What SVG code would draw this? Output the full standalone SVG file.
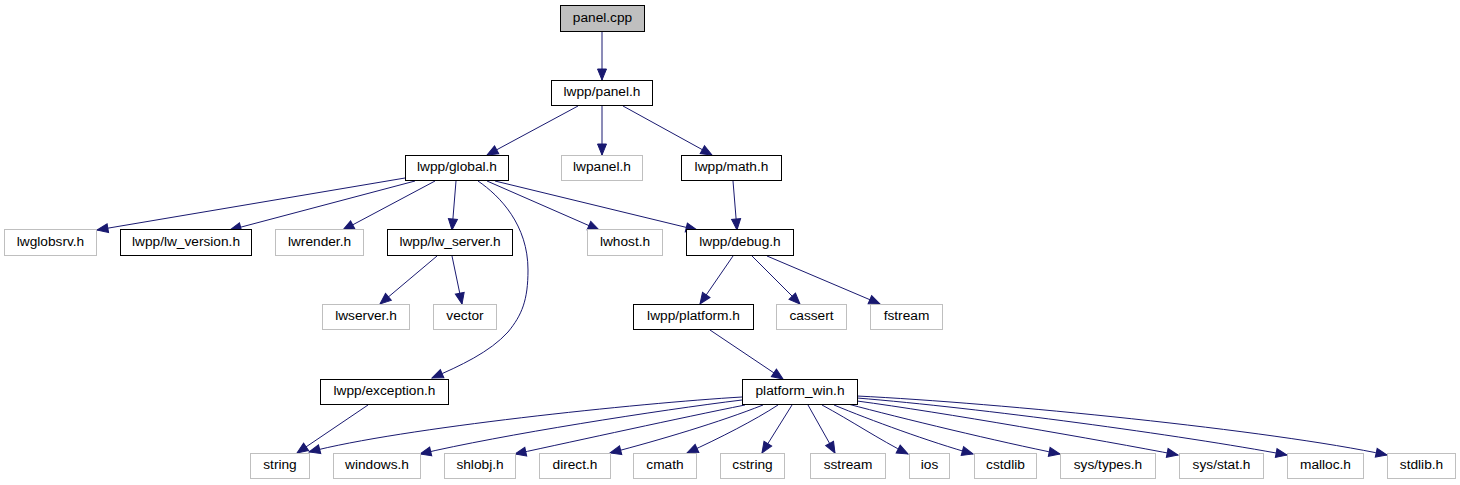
<svg xmlns="http://www.w3.org/2000/svg" width="1460" height="485" viewBox="0 0 1460 485">
<style>
.n rect{fill:#ffffff;stroke:#000000;stroke-width:1}
.g rect{fill:#ffffff;stroke:#bfbfbf;stroke-width:1}
.root rect{fill:#bfbfbf;stroke:#000000;stroke-width:1}
text{font-family:"Liberation Sans",Arial,sans-serif;font-size:13.7px;fill:#000000;text-anchor:middle}
#edges path{fill:none;stroke:#191970;stroke-width:1;marker-end:url(#ah)}
</style>
<defs>
<marker id="ah" markerUnits="userSpaceOnUse" markerWidth="12" markerHeight="10" refX="11" refY="4.5" orient="auto" overflow="visible">
<path d="M0,0 L11,4.5 L0,9 Z" fill="#191970" stroke="#191970" stroke-width="1"/>
</marker>
</defs>
<rect width="1460" height="485" fill="#ffffff"/>
<g id="edges">
<path d="M602,32 L602,80"/>
<path d="M578,106 L487,155"/>
<path d="M602,106 L602,155"/>
<path d="M623,106 L712,155"/>
<path d="M405,178 L97,230"/>
<path d="M415,181 L230,230"/>
<path d="M435,181 L343,230"/>
<path d="M456,181 L452,230"/>
<path d="M487,181 L599,230"/>
<path d="M495,181 L697,230"/>
<path d="M478,181 C500,196 528,225 528,270 C528,300 522,315 508,332 C490,352 460,366 432,378"/>
<path d="M733,181 L737,230"/>
<path d="M437,256 L380,304"/>
<path d="M452,256 L462,304"/>
<path d="M733,256 L700,304"/>
<path d="M752,256 L800,304"/>
<path d="M767,256 L880,304"/>
<path d="M710,330 L783,379"/>
<path d="M368,405 L297,453"/>
<path d="M742,397 C640,403 400,428 309,452"/>
<path d="M742,400 C660,410 500,435 420,454"/>
<path d="M745,405 C680,418 580,440 515,454"/>
<path d="M763,405 C720,422 660,440 610,453"/>
<path d="M778,405 C755,420 720,438 687,453"/>
<path d="M792,405 L762,453"/>
<path d="M808,405 L835,453"/>
<path d="M822,405 C850,420 880,440 908,454"/>
<path d="M834,405 C870,420 930,442 973,454"/>
<path d="M848,404 C900,418 1000,442 1060,454"/>
<path d="M857,401 C940,412 1100,440 1178,455"/>
<path d="M857,398 C980,408 1180,435 1287,455"/>
<path d="M857,396 C1000,403 1270,430 1387,455"/>
</g>
<g id="panel_cpp" class="root"><rect x="560.5" y="5.5" width="84" height="26"/><text x="602.5" y="22">panel.cpp</text></g>
<g id="lwpp_panel_h" class="n"><rect x="551.5" y="80.5" width="101" height="25"/><text x="602" y="96">lwpp/panel.h</text></g>
<g id="lwpanel_h" class="g"><rect x="561.5" y="155.5" width="81" height="25"/><text x="602" y="171">lwpanel.h</text></g>
<g id="lwpp_math_h" class="n"><rect x="681.5" y="155.5" width="100" height="25"/><text x="731.5" y="171">lwpp/math.h</text></g>
<g id="lwpp_global_h" class="n"><rect x="405.5" y="155.5" width="103" height="25"/><text x="457" y="171">lwpp/global.h</text></g>
<g id="lwglobsrv_h" class="g"><rect x="4.5" y="229.5" width="92" height="26"/><text x="50.5" y="246">lwglobsrv.h</text></g>
<g id="lwpp_lw_version_h" class="n"><rect x="120.5" y="229.5" width="131" height="26"/><text x="186" y="246">lwpp/lw_version.h</text></g>
<g id="lwrender_h" class="g"><rect x="275.5" y="229.5" width="88" height="26"/><text x="319.5" y="246">lwrender.h</text></g>
<g id="lwpp_lw_server_h" class="n"><rect x="387.5" y="229.5" width="125" height="26"/><text x="450" y="246">lwpp/lw_server.h</text></g>
<g id="lwhost_h" class="g"><rect x="587.5" y="229.5" width="75" height="26"/><text x="625" y="246">lwhost.h</text></g>
<g id="lwpp_debug_h" class="n"><rect x="686.5" y="229.5" width="107" height="26"/><text x="740" y="246">lwpp/debug.h</text></g>
<g id="lwserver_h" class="g"><rect x="322.5" y="304.5" width="87" height="25"/><text x="366" y="320">lwserver.h</text></g>
<g id="vector" class="g"><rect x="433.5" y="304.5" width="63" height="25"/><text x="465" y="320">vector</text></g>
<g id="lwpp_platform_h" class="n"><rect x="633.5" y="304.5" width="120" height="25"/><text x="693.5" y="320">lwpp/platform.h</text></g>
<g id="cassert" class="g"><rect x="776.5" y="304.5" width="70" height="25"/><text x="811.5" y="320">cassert</text></g>
<g id="fstream" class="g"><rect x="870.5" y="304.5" width="72" height="25"/><text x="906.5" y="320">fstream</text></g>
<g id="lwpp_exception_h" class="n"><rect x="320.5" y="379.5" width="128" height="25"/><text x="384.5" y="395">lwpp/exception.h</text></g>
<g id="platform_win_h" class="n"><rect x="742.5" y="379.5" width="115" height="25"/><text x="800" y="395">platform_win.h</text></g>
<g id="string" class="g"><rect x="250.5" y="453.5" width="59" height="25"/><text x="280" y="469">string</text></g>
<g id="windows_h" class="g"><rect x="333.5" y="453.5" width="87" height="25"/><text x="377" y="469">windows.h</text></g>
<g id="shlobj_h" class="g"><rect x="444.5" y="453.5" width="71" height="25"/><text x="480" y="469">shlobj.h</text></g>
<g id="direct_h" class="g"><rect x="539.5" y="453.5" width="71" height="25"/><text x="575" y="469">direct.h</text></g>
<g id="cmath" class="g"><rect x="633.5" y="453.5" width="63" height="25"/><text x="665" y="469">cmath</text></g>
<g id="cstring" class="g"><rect x="720.5" y="453.5" width="64" height="25"/><text x="752.5" y="469">cstring</text></g>
<g id="sstream" class="g"><rect x="810.5" y="453.5" width="75" height="25"/><text x="848" y="469">sstream</text></g>
<g id="ios" class="g"><rect x="909.5" y="453.5" width="40" height="25"/><text x="929.5" y="469">ios</text></g>
<g id="cstdlib" class="g"><rect x="974.5" y="453.5" width="62" height="25"/><text x="1005.5" y="469">cstdlib</text></g>
<g id="sys_types_h" class="g"><rect x="1060.5" y="453.5" width="95" height="25"/><text x="1108" y="469">sys/types.h</text></g>
<g id="sys_stat_h" class="g"><rect x="1179.5" y="453.5" width="84" height="25"/><text x="1221.5" y="469">sys/stat.h</text></g>
<g id="malloc_h" class="g"><rect x="1287.5" y="453.5" width="76" height="25"/><text x="1325.5" y="469">malloc.h</text></g>
<g id="stdlib_h" class="g"><rect x="1387.5" y="453.5" width="68" height="25"/><text x="1421.5" y="469">stdlib.h</text></g>
</svg>
